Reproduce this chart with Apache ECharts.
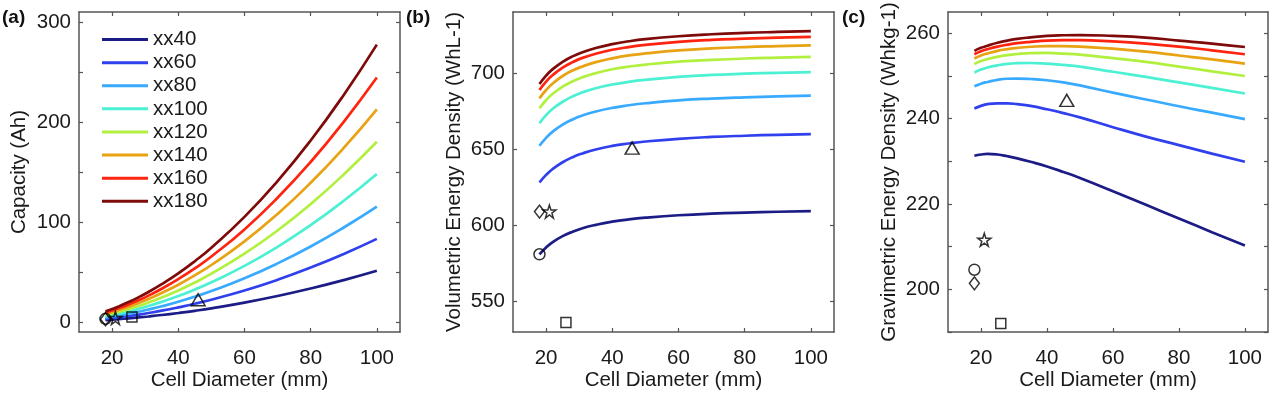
<!DOCTYPE html>
<html>
<head>
<meta charset="utf-8">
<script src="https://cdn.jsdelivr.net/npm/echarts@6/dist/echarts.min.js"></script>
<style>
html,body{margin:0;padding:0;background:#fff;}
#chart{width:1270px;height:393px;}
</style>
</head>
<body>
<div id="chart"></div>
<script>
// ---- data ----
const diameters = [18, 20, 22, 25, 28, 31, 35, 40, 45, 50, 60, 70, 80, 90, 100];
const seriesNames = ['xx40', 'xx60', 'xx80', 'xx100', 'xx120', 'xx140', 'xx160', 'xx180'];
const seriesColors = ['#1c1c86', '#3040ec', '#38aaff', '#4cf0d2', '#b2f040', '#e8a212', '#ff2410', '#7e0a0a'];

// (a) Capacity (Ah)
const capXX40  = [1.97, 2.41, 2.88, 3.68, 4.56, 5.53, 6.97, 8.98, 11.2, 13.7, 19.4, 26.0, 33.5, 41.9, 51.2];
const capXX60  = [3.20, 3.91, 4.68, 5.97, 7.40, 8.97, 11.3, 14.6, 18.2, 22.3, 31.5, 42.2, 54.4, 68.0, 83.1];
const capXX80  = [4.44, 5.42, 6.50, 8.29, 10.3, 12.5, 15.7, 20.2, 25.3, 30.9, 43.7, 58.6, 75.5, 94.5, 115.4];
const capXX100 = [5.70, 6.96, 8.33, 10.6, 13.2, 16.0, 20.1, 25.9, 32.5, 39.7, 56.1, 75.2, 96.9, 121.2, 148.0];
const capXX120 = [6.94, 8.47, 10.2, 12.9, 16.0, 19.5, 24.5, 31.6, 39.5, 48.3, 68.3, 91.5, 117.9, 147.5, 180.2];
const capXX140 = [8.19, 10.0, 12.0, 15.3, 18.9, 23.0, 29.0, 37.3, 46.7, 57.0, 80.6, 108.0, 139.2, 174.1, 212.7];
const capXX160 = [9.41, 11.5, 13.8, 17.6, 21.8, 26.4, 33.3, 42.9, 53.6, 65.5, 92.6, 124.2, 160.0, 200.2, 244.5];
const capXX180 = [10.7, 13.0, 15.6, 19.9, 24.7, 30.0, 37.8, 48.6, 60.8, 74.3, 105.1, 140.9, 181.5, 227.1, 277.4];

// (b) Volumetric energy density (WhL-1)
const volXX40  = [581.0, 585.5, 589.0, 592.9, 595.8, 598.1, 600.3, 602.4, 603.9, 605.0, 606.6, 607.7, 608.4, 608.9, 609.3];
const volXX60  = [628.1, 633.1, 637.0, 641.4, 644.7, 647.2, 649.8, 652.1, 653.7, 655.0, 656.8, 658.0, 658.8, 659.4, 659.8];
const volXX80  = [652.2, 657.4, 661.5, 666.1, 669.5, 672.1, 674.7, 677.1, 678.8, 680.1, 682.0, 683.2, 684.0, 684.6, 685.1];
const volXX100 = [667.0, 672.3, 676.5, 681.1, 684.6, 687.3, 690.0, 692.4, 694.2, 695.5, 697.4, 698.7, 699.5, 700.1, 700.6];
const volXX120 = [676.8, 682.1, 686.3, 691.0, 694.5, 697.2, 699.9, 702.4, 704.1, 705.5, 707.4, 708.6, 709.5, 710.1, 710.6];
const volXX140 = [683.3, 688.8, 693.1, 698.0, 701.6, 704.3, 707.1, 709.6, 711.5, 712.8, 714.8, 716.1, 717.0, 717.6, 718.1];
const volXX160 = [688.8, 694.3, 698.6, 703.5, 707.1, 709.9, 712.6, 715.2, 717.0, 718.4, 720.4, 721.7, 722.5, 723.2, 723.7];
const volXX180 = [692.7, 698.2, 702.5, 707.3, 710.9, 713.6, 716.4, 718.9, 720.8, 722.2, 724.1, 725.4, 726.3, 726.9, 727.4];

// (c) Gravimetric energy density (Whkg-1)
const gravXX40  = [231.3, 231.6, 231.75, 231.6, 231.2, 230.7, 229.9, 228.8, 227.5, 226.1, 223.0, 219.8, 216.6, 213.4, 210.3];
const gravXX60  = [242.4, 243.0, 243.4, 243.6, 243.6, 243.4, 243.0, 242.2, 241.3, 240.3, 238.0, 235.8, 233.8, 231.8, 229.9];
const gravXX80  = [247.6, 248.2, 248.6, 249.1, 249.35, 249.4, 249.3, 249.0, 248.5, 247.8, 246.1, 244.5, 242.9, 241.4, 239.9];
const gravXX100 = [250.8, 251.5, 252.0, 252.5, 252.85, 253.0, 253.05, 252.9, 252.6, 252.2, 251.0, 249.8, 248.5, 247.2, 245.9];
const gravXX120 = [252.8, 253.5, 254.0, 254.5, 254.9, 255.15, 255.35, 255.4, 255.25, 255.0, 254.2, 253.3, 252.2, 251.1, 250.0];
const gravXX140 = [254.1, 254.8, 255.3, 255.9, 256.3, 256.6, 256.85, 257.0, 257.0, 256.9, 256.4, 255.7, 254.8, 253.9, 252.9];
const gravXX160 = [255.1, 255.8, 256.3, 256.9, 257.35, 257.7, 258.0, 258.3, 258.4, 258.4, 258.1, 257.6, 256.9, 256.0, 255.1];
const gravXX180 = [255.9, 256.6, 257.1, 257.8, 258.3, 258.7, 259.05, 259.4, 259.55, 259.6, 259.4, 259.0, 258.3, 257.6, 256.8];

// commercial cells: circle, diamond, star, square, triangle
const markerNames = ['cell A', 'cell B', 'cell C', 'cell D', 'cell E'];
const markerX = [18, 18, 21, 26, 46];
const capMarkers = [3.2, 2.8, 4.0, 5.0, 22.3];
const volMarkers = [581.0, 609.0, 609.0, 536.3, 650.7];
const gravMarkers = [204.6, 201.4, 211.6, 192.0, 244.3];

// axis tick labels
const xTicks = [20, 40, 60, 80, 100];
const capTicks = [0, 100, 200, 300];
const capMinorTicks = [0, 50, 100, 150, 200, 250, 300];
const volTicks = [550, 600, 650, 700];
const gravTicks = [200, 220, 240, 260];
const gravMinorTicks = [190, 200, 210, 220, 230, 240, 250, 260];

// ---- chart ----
const FONT = '"Liberation Sans", Arial, Helvetica, sans-serif';
const FS = 20.5;
const AX = '#555';
const TXT = '#1a1a1a';

const capSets = [capXX40, capXX60, capXX80, capXX100, capXX120, capXX140, capXX160, capXX180];
const volSets = [volXX40, volXX60, volXX80, volXX100, volXX120, volXX140, volXX160, volXX180];
const gravSets = [gravXX40, gravXX60, gravXX80, gravXX100, gravXX120, gravXX140, gravXX160, gravXX180];

const grids = [
  {left: 79, top: 12, width: 321, height: 320},
  {left: 513, top: 12, width: 321, height: 320},
  {left: 948, top: 12, width: 320, height: 320}
];

const yCfg = [
  {min: -10, max: 310, labels: capTicks, ticks: capMinorTicks, name: 'Capacity (Ah)', gap: 49},
  {min: 530, max: 740, labels: volTicks, ticks: volTicks, name: 'Volumetric Energy Density (WhL-1)', gap: 48},
  {min: 190, max: 265, labels: gravTicks, ticks: gravMinorTicks, name: 'Gravimetric Energy Density (Whkg-1)', gap: 48}
];

const xAxes = [], yAxes = [];
for (let i = 0; i < 3; i++) {
  xAxes.push({
    type: 'value', gridIndex: i, position: 'bottom', min: 10, max: 107,
    name: 'Cell Diameter (mm)', nameLocation: 'middle', nameGap: 38, nameMoveOverlap: false,
    nameTextStyle: {fontFamily: FONT, fontSize: FS, color: TXT},
    axisLine: {show: true, onZero: false, lineStyle: {color: AX, width: 1.5}},
    axisTick: {show: true, inside: true, length: 4, customValues: xTicks, lineStyle: {color: AX, width: 1.2}},
    axisLabel: {show: true, customValues: xTicks, margin: 16, fontFamily: FONT, fontSize: FS, color: TXT},
    splitLine: {show: false}
  });
  yAxes.push({
    type: 'value', gridIndex: i, position: 'left', min: yCfg[i].min, max: yCfg[i].max,
    name: yCfg[i].name, nameLocation: 'middle', nameGap: yCfg[i].gap, nameRotate: 90, nameMoveOverlap: false,
    nameTextStyle: {fontFamily: FONT, fontSize: FS, color: TXT},
    axisLine: {show: true, onZero: false, lineStyle: {color: AX, width: 1.5}},
    axisTick: {show: true, inside: true, length: 4, customValues: yCfg[i].ticks, lineStyle: {color: AX, width: 1.2}},
    axisLabel: {show: true, customValues: yCfg[i].labels, margin: 8, fontFamily: FONT, fontSize: FS, color: TXT},
    splitLine: {show: false}
  });
}
for (let i = 0; i < 3; i++) {
  xAxes.push({
    type: 'value', gridIndex: i, position: 'top', min: 10, max: 107,
    axisLine: {show: true, onZero: false, lineStyle: {color: AX, width: 1.5}},
    axisTick: {show: true, inside: true, length: 4, customValues: xTicks, lineStyle: {color: AX, width: 1.2}},
    axisLabel: {show: false}, splitLine: {show: false}
  });
  yAxes.push({
    type: 'value', gridIndex: i, position: 'right', min: yCfg[i].min, max: yCfg[i].max,
    axisLine: {show: true, onZero: false, lineStyle: {color: AX, width: 1.5}},
    axisTick: {show: true, inside: true, length: 4, customValues: yCfg[i].ticks, lineStyle: {color: AX, width: 1.2}},
    axisLabel: {show: false}, splitLine: {show: false}
  });
}

const series = [];
const panels = [capSets, volSets, gravSets];
panels.forEach((sets, p) => {
  sets.forEach((vals, k) => {
    series.push({
      type: 'line', name: seriesNames[k], xAxisIndex: p, yAxisIndex: p,
      data: diameters.map((d, j) => [d, vals[j]]),
      smooth: true, showSymbol: false, symbol: 'none',
      color: seriesColors[k],
      lineStyle: {color: seriesColors[k], width: 2.7},
      z: 2, silent: true
    });
  });
});

const markerShapes = [
  {symbol: 'circle', size: 11},
  {symbol: 'diamond', size: [10, 13]},
  {symbol: 'path://M50,2 L61.5,37 L98,37 L68.5,58.5 L79.5,94 L50,72 L20.5,94 L31.5,58.5 L2,37 L38.5,37 Z', size: 13},
  {symbol: 'rect', size: 10},
  {symbol: 'triangle', size: [14, 12]}
];
const markerSets = [capMarkers, volMarkers, gravMarkers];
markerSets.forEach((vals, p) => {
  markerShapes.forEach((m, k) => {
    series.push({
      type: 'scatter', name: markerNames[k], xAxisIndex: p, yAxisIndex: p,
      data: [[markerX[k], vals[k]]],
      symbol: m.symbol, symbolSize: m.size,
      itemStyle: {color: 'rgba(255,255,255,0)', borderColor: '#000', borderWidth: 1.5},
      z: 5, silent: true
    });
  });
});

const chart = echarts.init(document.getElementById('chart'), null, {renderer: 'canvas'});
chart.setOption({
  animation: false,
  backgroundColor: '#fff',
  textStyle: {fontFamily: FONT},
  grid: grids.map(g => Object.assign({containLabel: false, outerBoundsMode: 'none', show: false}, g)),
  xAxis: xAxes,
  yAxis: yAxes,
  legend: {
    data: seriesNames.map(n => ({name: n, icon: 'rect'})),
    orient: 'vertical', left: 97, top: 23,
    itemWidth: 46, itemHeight: 3, itemGap: 0,
    selectedMode: false,
    textStyle: {fontFamily: FONT, fontSize: FS, color: TXT, lineHeight: 23.1, padding: [0, 0, 0, 0]}
  },
  graphic: [
    {type: 'text', left: 2, top: 8, style: {text: '(a)', font: 'bold 19px ' + FONT, fill: '#111'}},
    {type: 'text', left: 406, top: 8, style: {text: '(b)', font: 'bold 19px ' + FONT, fill: '#111'}},
    {type: 'text', left: 842, top: 8, style: {text: '(c)', font: 'bold 19px ' + FONT, fill: '#111'}}
  ],
  series: series
});
</script>
</body>
</html>
